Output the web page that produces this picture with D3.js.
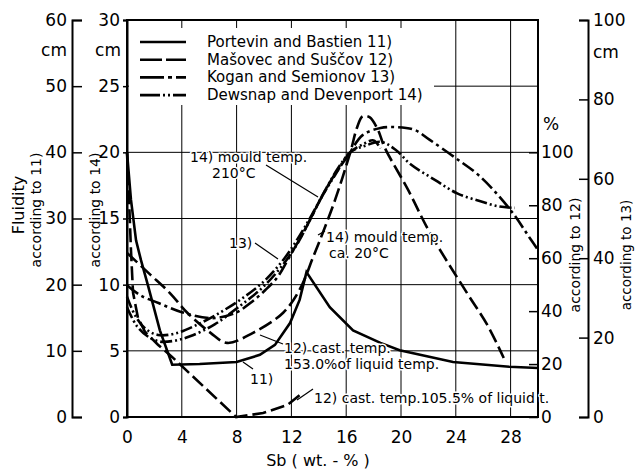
<!DOCTYPE html>
<html>
<head>
<meta charset="utf-8">
<script src="https://cdn.jsdelivr.net/npm/d3@7"></script>
<style>
  body { margin: 0; background: #fff; }
  svg { display: block; }
  text { font-family: "DejaVu Sans", sans-serif; fill: #000; }
  .ann text { stroke: #fff; stroke-width: 3px; paint-order: stroke; stroke-linejoin: round; }
</style>
</head>
<body>
<svg id="chart" width="635" height="469"></svg>
<script>
// Sb content (wt.-%) and fluidity values, each curve on its own axis
var sb11 = [0, 0.29, 0.66, 1.02, 1.53, 2.4, 3.3, 5.3, 8.0, 9.7, 10.8, 11.9, 12.6, 13.1, 14.8, 16.5, 18.5, 19.9, 23.8, 27.9, 30];
var fl11 = [40, 32.8, 26.7, 23.7, 19.9, 13.1, 7.9, 8.0, 8.3, 9.4, 10.9, 14.2, 17.7, 21.9, 16.6, 13.1, 11.2, 10.1, 8.3, 7.6, 7.4];

var sb12a = [0, 1.7, 3.1, 4.4, 6.1, 7.3, 9.2, 11.4, 12.6, 13.6, 14.3, 15.2, 16.3, 16.8, 17.2, 17.7, 18.3, 18.8, 20.5, 22.1, 24.8, 26.3, 27.5];
var pc12a = [62, 53.8, 47, 39.4, 31.8, 28, 31.8, 39.4, 48.1, 60.6, 69.7, 82.2, 100, 109.5, 113.6, 113.3, 108.7, 101.9, 86, 69.7, 47, 34.8, 22.3];

var sb12b = [0, 0.15, 0.29, 0.44, 0.8, 1.31, 2.26, 3.29, 7.96, 9.93, 11.7, 12.8];
var pc12b = [100, 82, 63, 47, 37.5, 32.2, 27.3, 22.7, 0, 1.5, 4.5, 9.1];

var sb13 = [0, 0.95, 2.3, 4.0, 6.2, 7.9, 9.0, 10.1, 11.0, 11.9, 13.1, 14.1, 15.0, 15.9, 16.3, 17.2, 18.5, 19.7, 21.0, 22.1, 24.0, 25.8, 28.0, 29.4, 30];
var fl13 = [33.2, 30.7, 28.7, 26.4, 24.9, 26.2, 28.7, 32, 35.3, 40.6, 47.9, 54.7, 60.2, 64.7, 66.8, 71, 72.8, 73, 72.3, 69.8, 65.2, 60.5, 52.1, 45.1, 42.1];

var sb14a = [0, 0.7, 1.5, 2.4, 3.4, 4.6, 6.4, 8.25, 9.86, 11.3, 12.5, 13.4, 14.2, 15.2, 16.3, 17.4, 18.5, 19.6, 20.7, 22.5, 24.1, 25.8, 27.2, 28.3];
var fl14a = [8.3, 6.9, 6.1, 5.7, 5.75, 6.1, 7.0, 8.4, 9.75, 11.4, 13.2, 15, 16.6, 18.3, 20, 20.5, 20.8, 20.2, 19.1, 17.9, 16.9, 16.3, 15.9, 15.8];

var sb14b = [0, 0.58, 1.31, 2.26, 3.5, 4.97, 6.8, 8.6, 10.1, 11.5, 12.6, 13.5, 14.5, 15.4, 16.3, 17.2, 18.0, 18.5];
var fl14b = [9.1, 7.7, 6.7, 6.2, 6.3, 6.9, 7.9, 9.1, 10.35, 12, 13.7, 15.3, 17.2, 18.8, 20, 20.6, 20.9, 20.3];

var xTicks = [0, 4, 8, 12, 16, 20, 24, 28];
var ticks11 = [0, 10, 20, 30, 40, 50, 60];
var ticks14 = [0, 5, 10, 15, 20, 25, 30];
var ticks12 = [0, 20, 40, 60, 80, 100];
var ticks13 = [0, 20, 40, 60, 80, 100];

var legendNames = ["Portevin and Bastien 11)", "Mašovec and Suščov  12)", "Kogan and Semionov  13)", "Dewsnap and Devenport 14)"];
var legendDash = [null, "22,4", "24,4,4,4", "20,3,2,3,2,3"];

var svg = d3.select("#chart");

var x = d3.scaleLinear().domain([0, 30]).range([127, 538]);
var y11 = d3.scaleLinear().domain([0, 60]).range([417, 20]);
var y14 = d3.scaleLinear().domain([0, 30]).range([417, 20]);
var y12 = d3.scaleLinear().domain([0, 150]).range([417, 20]);
var y13 = d3.scaleLinear().domain([0, 100]).range([417, 20]);

// grid
var grid = svg.append("g").attr("stroke", "#000").attr("stroke-width", 1);
grid.selectAll(".hg").data([5, 10, 15, 20, 25]).enter().append("line")
  .attr("x1", x(0)).attr("x2", x(30))
  .attr("y1", function (d) { return y14(d); }).attr("y2", function (d) { return y14(d); });
grid.selectAll(".vg").data(xTicks.slice(1)).enter().append("line")
  .attr("x1", function (d) { return x(d); }).attr("x2", function (d) { return x(d); })
  .attr("y1", 20).attr("y2", 417);

// legend backdrop hides grid behind it
svg.append("rect").attr("x", 129).attr("y", 28).attr("width", 305).attr("height", 77).attr("fill", "#fff");

// frame
svg.append("rect").attr("x", x(0)).attr("y", 20).attr("width", x(30) - x(0)).attr("height", 397)
  .attr("fill", "none").attr("stroke", "#000").attr("stroke-width", 2);

function styleAxis(g) {
  g.selectAll("path").attr("stroke-width", 2);
  g.selectAll("line").attr("stroke-width", 1.5);
  g.selectAll("text").attr("font-size", 17).attr("font-family", "DejaVu Sans");
}

// outer left axis (according to 11)
svg.append("g").attr("transform", "translate(72,0)")
  .call(d3.axisRight(y11).tickValues(ticks11).tickSizeOuter(0).tickSize(10).tickFormat(d3.format("d")))
  .call(styleAxis)
  .call(function (g) { g.selectAll("text").attr("x", -5).attr("text-anchor", "end"); });

// inner left axis (according to 14)
svg.append("g").attr("transform", "translate(127,0)")
  .call(d3.axisLeft(y14).tickValues(ticks14).tickSizeOuter(0).tickSize(4).tickFormat(d3.format("d")))
  .call(styleAxis)
  .call(function (g) { g.selectAll("text").attr("x", -7); });

// x axis
svg.append("g").attr("transform", "translate(0,417)")
  .call(d3.axisBottom(x).tickValues(xTicks).tickSize(0).tickSizeOuter(0))
  .call(styleAxis)
  .call(function (g) { g.select("path").remove(); g.selectAll("text").attr("y", 14); });

// inner right axis (according to 12, %)
svg.append("g").attr("transform", "translate(538,0)")
  .call(d3.axisRight(y12).tickValues(ticks12).tickSizeOuter(0).tickSize(-9).tickFormat(d3.format("d")))
  .call(styleAxis)
  .call(function (g) { g.select("path").remove(); g.selectAll("text").attr("x", 3); });

// outer right axis (according to 13)
svg.append("g").attr("transform", "translate(588,0)")
  .call(d3.axisLeft(y13).tickValues(ticks13).tickSizeOuter(0).tickSize(9).tickFormat(d3.format("d")))
  .call(styleAxis)
  .call(function (g) { g.selectAll("text").attr("x", 5).attr("text-anchor", "start"); });

// units
var units = svg.append("g").attr("font-size", 17);
units.append("text").attr("x", 67).attr("y", 56).attr("text-anchor", "end").text("cm");
units.append("text").attr("x", 121).attr("y", 56).attr("text-anchor", "end").text("cm");
units.append("text").attr("x", 543).attr("y", 130).text("%");
units.append("text").attr("x", 593).attr("y", 58).text("cm");

// axis titles
function vtitle(cx, cy, txt, size) {
  svg.append("text").attr("transform", "translate(" + cx + "," + cy + ") rotate(-90)")
    .attr("text-anchor", "middle").attr("font-size", size).text(txt);
}
vtitle(24, 205, "Fluidity", 16);
vtitle(41, 210, "according to 11)", 14);
vtitle(100, 210, "according to 14)", 14);
vtitle(580, 255, "according to 12)", 14);
vtitle(631, 255, "according to 13)", 13.5);
svg.append("text").attr("x", 318).attr("y", 466).attr("text-anchor", "middle")
  .attr("font-size", 16).text("Sb ( wt. - % )");

// curves
function curve(xs, ys, yScale, dash, shape) {
  var pts = xs.map(function (d, i) { return [x(d), yScale(ys[i])]; });
  var line = d3.line().curve(shape || d3.curveCatmullRom.alpha(0.5));
  svg.append("path").attr("d", line(pts)).attr("fill", "none").attr("stroke", "#000")
    .attr("stroke-width", 2.6).attr("stroke-dasharray", dash);
}
curve(sb11, fl11, y11, null, d3.curveLinear);
curve(sb12a, pc12a, y12, "14,5");
curve(sb12b, pc12b, y12, "14,5", d3.curveLinear);
curve(sb13, fl13, y13, "14,4,3,4");
curve(sb14a, fl14a, y14, "12,3,2,3,2,3");
curve(sb14b, fl14b, y14, "12,3,2,3,2,3");

// legend
var leg = svg.append("g");
legendNames.forEach(function (name, i) {
  var ly = 42 + i * 17.7;
  leg.append("line").attr("x1", 140).attr("x2", 186).attr("y1", ly).attr("y2", ly)
    .attr("stroke", "#000").attr("stroke-width", 2.6).attr("stroke-dasharray", legendDash[i]);
  leg.append("text").attr("x", 207).attr("y", ly + 5).attr("font-size", 15).text(name);
});

// annotations
var ann = svg.append("g").attr("class", "ann").attr("font-size", 14);
function label(tx, ty, txt) {
  ann.append("text").attr("x", tx).attr("y", ty).text(txt);
}
function pointer(x1, y1, x2, y2) {
  ann.append("line").attr("x1", x1).attr("y1", y1).attr("x2", x2).attr("y2", y2)
    .attr("stroke", "#000").attr("stroke-width", 1.2);
}
pointer(266, 165, 318, 197);
pointer(255, 243, 278, 259);
pointer(260, 335, 283, 344);
pointer(243, 362, 253, 369);
pointer(297, 400, 313, 389);
pointer(325, 231, 318, 235);
label(190, 162, "14) mould temp.");
label(212, 178, "210°C");
label(229, 248, "13)");
label(326, 242, "14) mould temp.");
label(329, 258, "ca. 20°C");
label(284, 353, "12) cast. temp.");
label(284, 369, "153.0%of liquid temp.");
label(250, 384, "11)");
label(314, 403, "12) cast. temp.105.5% of liquid t.");
</script>
</body>
</html>
